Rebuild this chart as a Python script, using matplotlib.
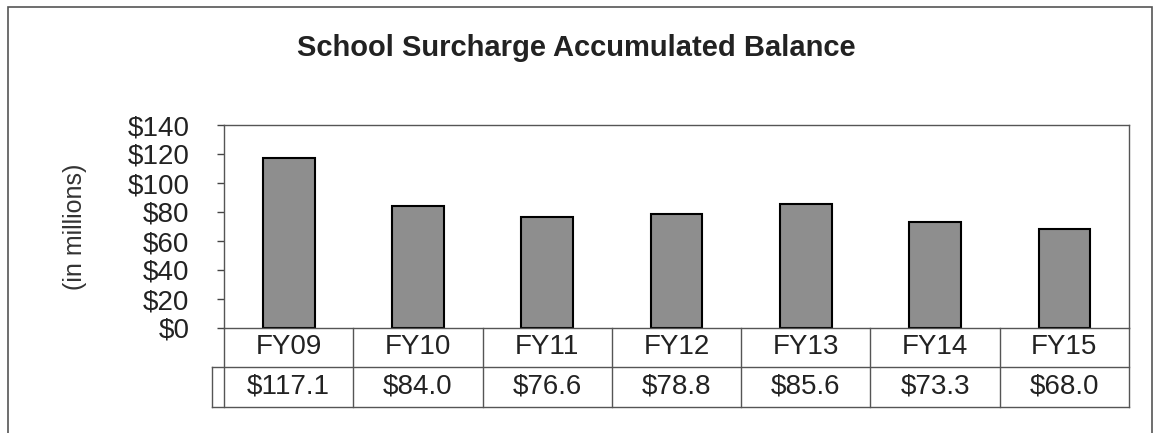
import matplotlib.pyplot as plt
from matplotlib.patches import Rectangle
from matplotlib.lines import Line2D
import matplotlib.transforms as mtransforms

years = ['FY09', 'FY10', 'FY11', 'FY12', 'FY13', 'FY14', 'FY15']
balance = [117.1, 84.0, 76.6, 78.8, 85.6, 73.3, 68.0]
yticks = [0, 20, 40, 60, 80, 100, 120, 140]

plt.rcParams['font.family'] = ['Liberation Sans', 'DejaVu Sans']

W, H = 1153, 433
fig = plt.figure(figsize=(W / 100, H / 100), dpi=100)

# plot area in pixels
left, right, top, bottom = 224, 1129, 125, 328
ax = fig.add_axes([left / W, 1 - bottom / H, (right - left) / W, (bottom - top) / H])

x = range(len(years))
ax.bar(x, balance, width=0.4, color='#8e8e8e', edgecolor='black', linewidth=1.5)
ax.set_xlim(-0.5, len(years) - 0.5)
ax.set_ylim(0, 140)
ax.set_yticks(yticks)
ax.set_yticklabels(['$%d' % v for v in yticks], fontsize=20, color='#222222')
ax.tick_params(axis='y', direction='out', length=5, width=1, pad=20, color='#444444')
ax.set_xticks([])
for s in ax.spines.values():
    s.set_color('#555555')
    s.set_linewidth(1)

ax.text(-0.165, 0.5, '(in millions)', transform=ax.transAxes, rotation=90,
        ha='center', va='center', fontsize=18, color='#333333')

fig.text(576 / W, 1 - 48 / H, 'School Surcharge Accumulated Balance',
         ha='center', va='center', fontsize=21, fontweight='bold', color='#222222')

# data table under the chart
ah = bottom - top
r1 = -(367 - bottom) / ah
r2 = -(407 - bottom) / ah
key_left = (212 - left) / (right - left)
trans = mtransforms.blended_transform_factory(ax.transData, ax.transAxes)
lc = '#555555'
for i in range(len(years) + 1):
    ax.add_line(Line2D([i - 0.5, i - 0.5], [0, r2], transform=trans, color=lc,
                       lw=1, clip_on=False))
for yy in (r1, r2):
    ax.add_line(Line2D([key_left, 1], [yy, yy], transform=ax.transAxes, color=lc,
                       lw=1, clip_on=False))
ax.add_line(Line2D([key_left, key_left], [r1, r2], transform=ax.transAxes, color=lc,
                   lw=1, clip_on=False))
for i, (yr, v) in enumerate(zip(years, balance)):
    ax.text(i, r1 / 2, yr, transform=trans, ha='center', va='center',
            fontsize=20, color='#222222')
    ax.text(i, (r1 + r2) / 2, '$%.1f' % v, transform=trans, ha='center', va='center',
            fontsize=20, color='#222222')

# outer chart frame
fig.patches.append(Rectangle((8 / W, -0.05), (1152 - 8) / W, 1.05 - 7 / H,
                             transform=fig.transFigure, fill=False,
                             edgecolor='#555555', lw=1.2))

plt.savefig('out.png', dpi=100)
